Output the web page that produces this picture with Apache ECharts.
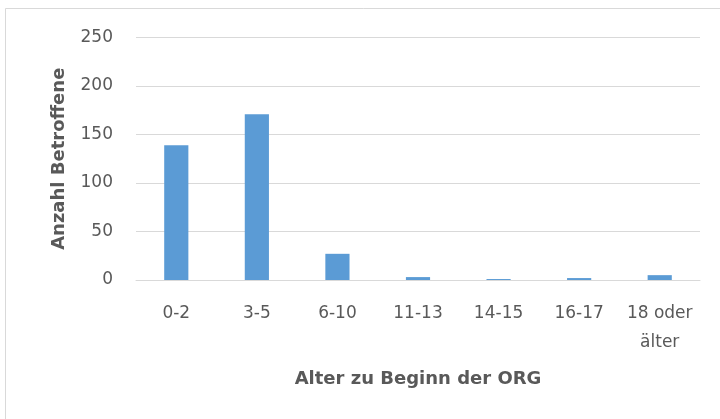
<!DOCTYPE html>
<html><head><meta charset="utf-8">
<script src="https://cdn.jsdelivr.net/npm/echarts@6/dist/echarts.min.js"></script>
<style>html,body{margin:0;padding:0;background:#fff}#c{width:720px;height:419px}</style>
</head><body><div id="c"></div>
<script>
const categories = ['0-2', '3-5', '6-10', '11-13', '14-15', '16-17', '18 oder\nälter'];
const values = [139, 171, 27, 3, 1, 2, 5];
const yTicks = [0, 50, 100, 150, 200, 250];
const xTitle = 'Alter zu Beginn der ORG';
const yTitle = 'Anzahl Betroffene';

const chart = echarts.init(document.getElementById('c'), null, {renderer: 'canvas'});
const font = '"DejaVu Sans", sans-serif';
chart.setOption({
  animation: false,
  backgroundColor: '#fff',
  graphic: [{
    type: 'rect', shape: {x: 5.5, y: 8.5, width: 740, height: 440},
    style: {fill: 'none', stroke: '#D9D9D9', lineWidth: 1}, silent: true
  }],
  grid: {left: 136, right: 20, top: 37.5, bottom: 139, containLabel: false},
  xAxis: {
    type: 'category', data: categories,
    axisLine: {lineStyle: {color: '#D9D9D9', width: 1}},
    axisTick: {show: false},
    axisLabel: {color: '#595959', fontFamily: font, fontSize: 17, margin: 19, lineHeight: 29, interval: 0},
    name: xTitle, nameLocation: 'middle', nameGap: 90,
    nameTextStyle: {color: '#595959', fontFamily: font, fontSize: 18, fontWeight: 'bold'}
  },
  yAxis: {
    type: 'value', min: yTicks[0], max: yTicks[yTicks.length - 1], interval: 50,
    axisLine: {show: false}, axisTick: {show: false},
    splitLine: {lineStyle: {color: '#D9D9D9', width: 1}},
    axisLabel: {color: '#595959', fontFamily: font, fontSize: 17, margin: 23},
    name: yTitle, nameLocation: 'middle', nameGap: 68,
    nameTextStyle: {color: '#595959', fontFamily: font, fontSize: 18, fontWeight: 'bold'}
  },
  series: [{
    type: 'bar', data: values, barWidth: '30%',
    itemStyle: {color: '#5B9BD5'}
  }]
});
</script></body></html>
